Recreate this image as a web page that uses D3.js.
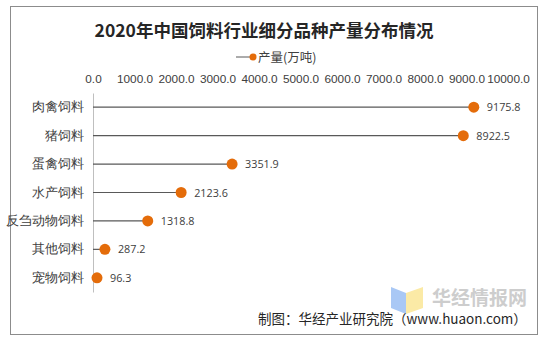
<!DOCTYPE html>
<html>
<head>
<meta charset="utf-8">
<script src="https://cdn.jsdelivr.net/npm/d3@7"></script>
<style>
  html, body { margin: 0; padding: 0; background: #fff; }
  svg { display: block; font-family: "Microsoft YaHei", "Noto Sans CJK SC", sans-serif; }
</style>
</head>
<body>
<svg id="chart" width="548" height="343"></svg>
<script>
// Feed output by category, 2020 (万吨)
const categories = ["肉禽饲料", "猪饲料", "蛋禽饲料", "水产饲料", "反刍动物饲料", "其他饲料", "宠物饲料"];
const output = [9175.8, 8922.5, 3351.9, 2123.6, 1318.8, 287.2, 96.3];
const tickValues = [0, 1000, 2000, 3000, 4000, 5000, 6000, 7000, 8000, 9000, 10000];
const title = "2020年中国饲料行业细分品种产量分布情况";
const seriesName = "产量(万吨)";
const source = "制图：华经产业研究院（www.huaon.com）";

const svg = d3.select("#chart");
const orange = "#e46c0a";
const lineGray = "#595959";
const textGray = "#404040";

// outer frame
svg.append("rect")
  .attr("x", 10.5).attr("y", 6.5)
  .attr("width", 527).attr("height", 328)
  .attr("fill", "#fff").attr("stroke", "#8c8c8c").attr("stroke-width", 1);

// title
svg.append("text")
  .attr("x", 264).attr("y", 37)
  .attr("text-anchor", "middle")
  .attr("font-size", 17.5).attr("font-weight", "bold")
  .attr("fill", "#262626")
  .text(title);

// legend
const lg = svg.append("g").attr("transform", "translate(236,57)");
lg.append("line").attr("x1", 0).attr("x2", 17).attr("y1", 0).attr("y2", 0)
  .attr("stroke", lineGray).attr("stroke-width", 1);
lg.append("circle").attr("cx", 17).attr("cy", 0).attr("r", 3.5).attr("fill", orange);
lg.append("text").attr("x", 22).attr("y", 4.5)
  .attr("font-size", 12.5).attr("fill", textGray).text(seriesName);

// scales
const x = d3.scaleLinear().domain([0, 10000]).range([93, 508]);
const y = d3.scaleBand().domain(categories).range([93, 292]);

// top value axis (labels only)
const xAxis = d3.axisTop(x).tickValues(tickValues)
  .tickFormat(d3.format(".1f")).tickSize(0).tickPadding(0);
const gx = svg.append("g").attr("transform", "translate(0,83)").call(xAxis);
gx.select(".domain").remove();
gx.selectAll("text").attr("font-size", 11.8).attr("fill", textGray)
  .attr("font-family", "Liberation Sans, Arial, sans-serif");

// category axis
const yAxis = d3.axisLeft(y).tickSize(0).tickPadding(9);
const gy = svg.append("g").attr("transform", `translate(${x(0)},0)`).call(yAxis);
gy.select(".domain").attr("stroke", "#bfbfbf");
gy.selectAll("text").attr("font-size", 12.5).attr("fill", textGray);

// lollipop stems
const rows = categories.map((c, i) => ({ c, v: output[i] }));
svg.append("g").selectAll("line").data(rows).join("line")
  .attr("x1", x(0)).attr("x2", d => x(d.v))
  .attr("y1", d => y(d.c) + y.bandwidth() / 2)
  .attr("y2", d => y(d.c) + y.bandwidth() / 2)
  .attr("stroke", lineGray).attr("stroke-width", 1.2);

// dots
svg.append("g").selectAll("circle").data(rows).join("circle")
  .attr("cx", d => x(d.v))
  .attr("cy", d => y(d.c) + y.bandwidth() / 2)
  .attr("r", 5.5).attr("fill", orange);

// value labels
svg.append("g").selectAll("text").data(rows).join("text")
  .attr("x", d => x(d.v) + 13)
  .attr("y", d => y(d.c) + y.bandwidth() / 2 + 4)
  .attr("font-size", 10.8).attr("fill", textGray)
  .attr("font-family", "Open Sans, Liberation Sans, sans-serif")
  .text(d => d3.format(".1f")(d.v));

// watermark logo and name
const wm = svg.append("g");
wm.append("path").attr("d", "M391,287 L406,293 L406,314 L391,308 Z").attr("fill", "#a9c8f5");
wm.append("path").attr("d", "M406,293 L423,287 L423,308 L406,314 Z").attr("fill", "#fbeaa6");
wm.append("text").attr("x", 432).attr("y", 305)
  .attr("font-size", 19).attr("font-weight", "bold").attr("fill", "#cdcdcd")
  .text("华经情报网");

// source note
svg.append("text").attr("x", 258).attr("y", 324)
  .attr("font-size", 13.5).attr("fill", "#262626").text(source);
</script>
</body>
</html>
